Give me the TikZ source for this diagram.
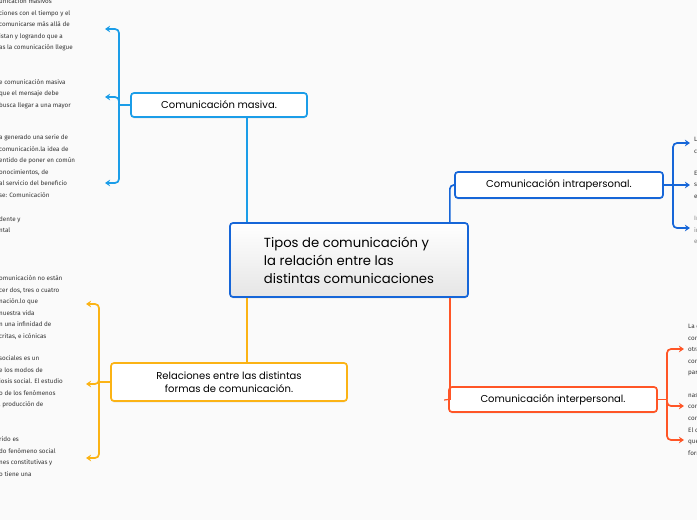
\documentclass[tikz,border=0pt]{standalone}
\usepackage{fontspec}
\setmainfont{Poppins}
\newfontfamily\notefont{Fira Sans}
\usetikzlibrary{arrows.meta,shadows,calc}
\definecolor{bgc}{HTML}{FAFAFA}
\definecolor{mainblue}{HTML}{1666D8}
\definecolor{skyb}{HTML}{1B9DE8}
\definecolor{amberc}{HTML}{FBB315}
\definecolor{orangec}{HTML}{FF5526}
\definecolor{txt}{HTML}{333333}
\begin{document}
\begin{tikzpicture}[x=1pt,y=-1pt,
 box/.style={draw, line width=1.7pt, rounded corners=3pt, fill=white, inner sep=0pt,
   font=\fontsize{10}{12.5}\selectfont, text=black, align=center,
   drop shadow={opacity=0.12,shadow xshift=0pt,shadow yshift=-1.5pt}},
 conn/.style={line width=1.7pt, rounded corners=4pt},
 arr/.style={conn, -{Stealth[length=5pt,width=6.5pt,inset=1.5pt]}},
 note/.style={anchor=north west, inner sep=0pt, align=left, text=txt,
   font=\notefont\fontsize{6.3}{11.5}\selectfont},
]
\useasboundingbox (0,0) rectangle (697,520);
\fill[bgc] (0,0) rectangle (697,520);
\clip (0,0) rectangle (697,520);

% nodes
\node[box, draw=mainblue, minimum width=238pt, minimum height=74pt, align=left,
  top color=white, bottom color=black!10, font=\fontsize{13.2}{18}\selectfont]
  (central) at (349,260) {Tipos de comunicación y\\la relación entre las\\distintas comunicaciones};
\node[box, draw=skyb, minimum width=176pt, minimum height=24pt] (masiva) at (219,105) {Comunicación masiva.};
\node[box, draw=amberc, minimum width=236pt, minimum height=38pt] (rel) at (229,382)
  {Relaciones entre las distintas\\formas de comunicación.};
\node[box, draw=mainblue, minimum width=208pt, minimum height=26pt] (intra) at (559,185) {Comunicación intrapersonal.};
\node[box, draw=orangec, minimum width=208pt, minimum height=25pt] (inter) at (553,399.5) {Comunicación interpersonal.};

% bracket junctions
\coordinate (jm) at (119,105);
\coordinate (jr) at (99,382);
\coordinate (ja) at (673,185);
\coordinate (je) at (667,399.5);

% main connectors
\draw[conn, skyb] ([xshift=18pt]central.north west) -- ([xshift=18pt]central.north west |- masiva.south);
\draw[conn, amberc] ([xshift=18pt]central.south west) -- ([xshift=18pt]central.south west |- rel.north);
\draw[conn, mainblue] ([xshift=-19pt]central.north east) |- (intra.west);
\draw[conn, orangec] ([xshift=-19pt]central.south east) -- ([xshift=-19pt]central.south east |- inter.west);
\draw[line width=1.2pt, orangec] (inter.west) -- ++(-4,0.5);

% brackets
\draw[conn, skyb] (masiva.west) -- (jm);
\draw[arr, skyb] (jm) |- (105,29);
\draw[arr, skyb] (jm) |- (105,97);
\draw[arr, skyb] (jm) |- (105,183);

\draw[conn, amberc] (rel.west) -- (jr);
\draw[arr, amberc] (jr) |- (86,304);
\draw[arr, amberc] (jr) |- (86,384);
\draw[arr, amberc] (jr) |- (86,458);

\draw[conn, mainblue] (intra.east) -- (ja);
\draw[arr, mainblue] (ja) |- (690,143);
\draw[arr, mainblue] (ja) -- (690,185);
\draw[arr, mainblue] (ja) |- (690,228);

\draw[conn, orangec] (inter.east) -- (je);
\draw[arr, orangec] (je) |- (684,349);
\draw[arr, orangec] (je) |- (684,406);
\draw[arr, orangec] (je) |- (684,440);

% left notes (masiva)
\node[note] (m1) at (-1,-1.5) {unicación masivos\\ciones con el tiempo y el\\ comunicarse más allá de\\istan y logrando que a\\as la comunicación llegue};
\node[note] (m2) at (-1,79) {e comunicación masiva\\ que el mensaje debe\\busca llegar a una mayor};
\node[note] (m3) at (-1,134.5) {a generado una serie de\\ comunicación.la idea de\\entido de poner en común\\onocimientos, de\\ al servicio del beneficio\\se: Comunicación};
\node[note] (m4) at (-1,216.5) {dente y\\ntal};

% left notes (relaciones)
\node[note] (r1) at (-1,275.5) {omunicación no están\\cer dos, tres o cuatro\\nación.lo que\\ nuestra vida\\n una infinidad de\\critas, e icónicas};
\node[note] (r2) at (-1,355.5) { sociales es un\\e los modos de\\iosis social. El estudio\\o de los fenómenos\\, producción de};
\node[note] (r3) at (-1,436.5) {rido es\\do fenómeno social\\nes constitutivas y\\o tiene una};

% right notes (intrapersonal)
\node[note] (a1) at (694,136.5) {La comunicación\\con uno mismo};
\node[note] (a2) at (694,170.5) {Es un proceso\\se lleva a cabo\\en la mente};
\node[note, text=txt!60] (a3) at (694,215.5) {Implica\\interno\\el};

% right notes (interpersonal)
\node[note] (e1) at (688,323.5) {La comunicación\\con\\otras\\con\\para};
\node[note] (e2) at (688,393.5) {nas\\con\\con};
\node[note] (e3) at (688,427.5) {El c\\que\\forma};
\end{tikzpicture}
\end{document}
